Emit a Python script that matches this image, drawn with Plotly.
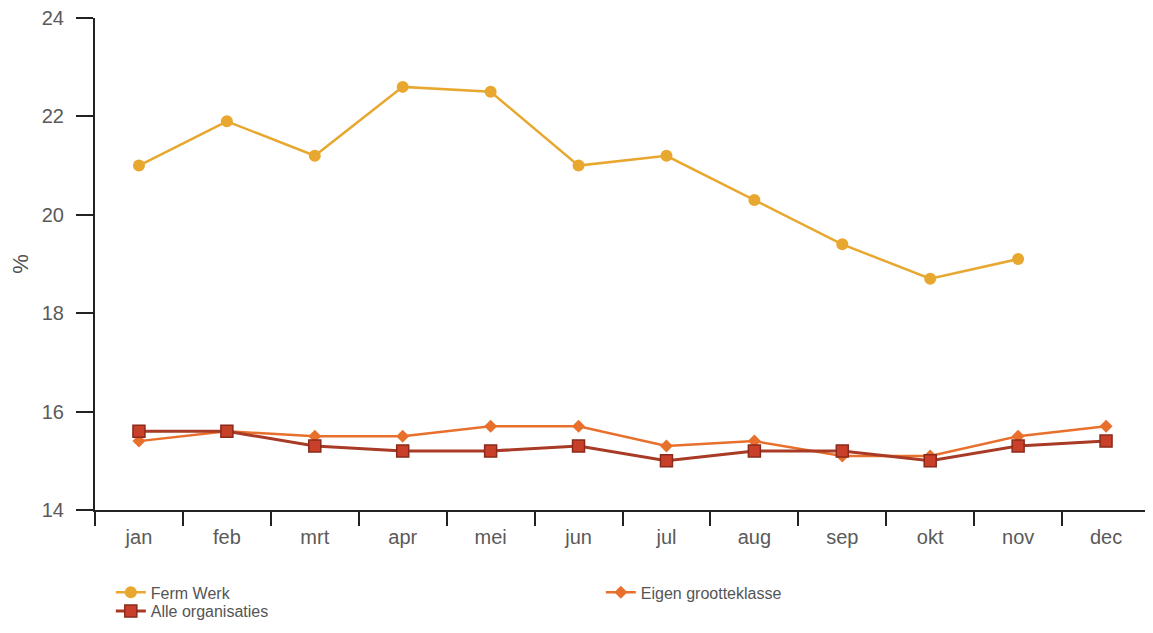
import plotly.graph_objects as go

months = ["jan", "feb", "mrt", "apr", "mei", "jun", "jul", "aug", "sep", "okt", "nov", "dec"]
ferm_werk = [21.0, 21.9, 21.2, 22.6, 22.5, 21.0, 21.2, 20.3, 19.4, 18.7, 19.1, None]
eigen_grootteklasse = [15.4, 15.6, 15.5, 15.5, 15.7, 15.7, 15.3, 15.4, 15.1, 15.1, 15.5, 15.7]
alle_organisaties = [15.6, 15.6, 15.3, 15.2, 15.2, 15.3, 15.0, 15.2, 15.2, 15.0, 15.3, 15.4]
y_ticks = [14, 16, 18, 20, 22, 24]

fig = go.Figure()
fig.add_trace(go.Scatter(
    x=months, y=ferm_werk, name="Ferm Werk", mode="lines+markers",
    line=dict(color="#E8A830", width=2.5),
    marker=dict(symbol="circle", size=12, color="#E8A830"),
    legend="legend",
))
fig.add_trace(go.Scatter(
    x=months, y=eigen_grootteklasse, name="Eigen grootteklasse", mode="lines+markers",
    line=dict(color="#E8702C", width=2.5),
    marker=dict(symbol="diamond", size=10, color="#E8702C"),
    legend="legend",
))
fig.add_trace(go.Scatter(
    x=months, y=alle_organisaties, name="Alle organisaties", mode="lines+markers",
    line=dict(color="#A83A26", width=3),
    marker=dict(symbol="square", size=12, color="#C8402A", line=dict(color="#8A2A1A", width=1.5)),
    legend="legend2",
))

legend_font = dict(family="Liberation Sans, Arial, sans-serif", size=16, color="#555555")

fig.update_layout(
    width=1145, height=625,
    margin=dict(l=87, r=3, t=10, b=123, autoexpand=False),
    paper_bgcolor="#FFFFFF", plot_bgcolor="#FFFFFF",
    font=dict(family="Liberation Sans, Arial, sans-serif", color="#555555", size=20),
    showlegend=True,
    legend=dict(
        orientation="h", x=0.015, y=-0.133, xanchor="left", yanchor="top",
        entrywidth=445, entrywidthmode="pixels",
        font=legend_font, itemwidth=30, bgcolor="rgba(0,0,0,0)",
    ),
    legend2=dict(
        orientation="h", x=0.015, y=-0.171, xanchor="left", yanchor="top",
        font=legend_font, itemwidth=30, bgcolor="rgba(0,0,0,0)",
    ),
    xaxis=dict(
        type="category", categoryorder="array", categoryarray=months,
        range=[-0.5, 11.5], automargin=False,
        showline=True, linecolor="#222222", linewidth=2,
        ticks="outside", tickson="boundaries", ticklen=14, tickwidth=2, tickcolor="#222222",
        showgrid=False, zeroline=False, ticklabelstandoff=8, ticklabeloverflow="allow",
        tickfont=dict(size=20, color="#5a5a5a"),
    ),
    yaxis=dict(
        range=[14, 24], tickvals=y_ticks, automargin=False,
        showline=True, linecolor="#222222", linewidth=2,
        ticks="outside", ticklen=17, tickwidth=2, tickcolor="#222222",
        showgrid=False, zeroline=False, ticklabelstandoff=8, ticklabeloverflow="allow",
        tickfont=dict(size=20, color="#5a5a5a"),
        title=dict(text="%", font=dict(size=22, color="#505050"), standoff=12),
    ),
)

fig.write_html("out.html")
